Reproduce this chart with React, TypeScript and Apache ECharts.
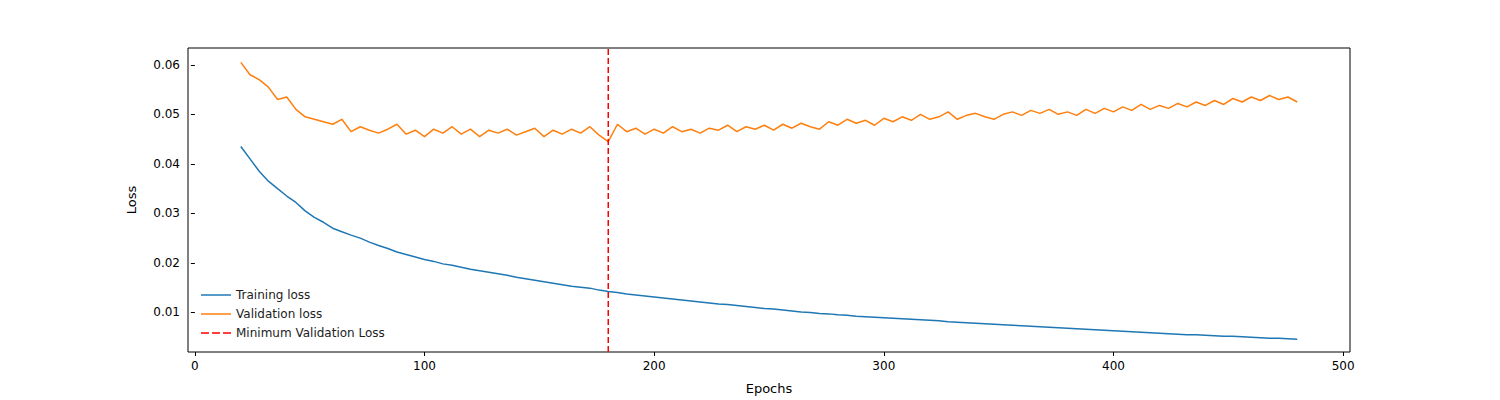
import React, { useEffect, useRef } from 'react'
import * as echarts from 'echarts'

const firstEpoch = 20
const epochStep = 4

const trainingLoss = [
  0.0435, 0.041, 0.0385, 0.0365, 0.035, 0.0335, 0.0322, 0.0305, 0.0292, 0.0282,
  0.027, 0.0263, 0.0256, 0.025, 0.0242, 0.0235, 0.0229, 0.0222, 0.0217, 0.0212,
  0.0207, 0.0203, 0.0198, 0.0195, 0.0191, 0.0187, 0.0184, 0.0181, 0.0178, 0.0175,
  0.0171, 0.0168, 0.0165, 0.0162, 0.0159, 0.0156, 0.0153, 0.0151, 0.0149, 0.0145,
  0.0142, 0.014, 0.0137, 0.0135, 0.0133, 0.0131, 0.0129, 0.0127, 0.0125, 0.0123,
  0.0121, 0.0119, 0.0117, 0.0116, 0.0114, 0.0112, 0.011, 0.0108, 0.0107, 0.0105,
  0.0103, 0.0101, 0.01, 0.0098, 0.0097, 0.0095, 0.0094, 0.0092, 0.0091, 0.009,
  0.0089, 0.0088, 0.0087, 0.0086, 0.0085, 0.0084, 0.0083, 0.0081, 0.008, 0.0079,
  0.0078, 0.0077, 0.0076, 0.0075, 0.0074, 0.0073, 0.0072, 0.0071, 0.007, 0.0069,
  0.0068, 0.0067, 0.0066, 0.0065, 0.0064, 0.0063, 0.0062, 0.0061, 0.006, 0.0059,
  0.0058, 0.0057, 0.0056, 0.0055, 0.0055, 0.0054, 0.0053, 0.0052, 0.0052, 0.0051,
  0.005, 0.0049, 0.0048, 0.0048, 0.0047, 0.0046,
]

const validationLoss = [
  0.0605, 0.058, 0.057, 0.0555, 0.053, 0.0535, 0.051, 0.0495, 0.049, 0.0485,
  0.048, 0.049, 0.0465, 0.0475, 0.0468, 0.0462, 0.047, 0.048, 0.046, 0.0468,
  0.0455, 0.047, 0.0462, 0.0475, 0.046, 0.047, 0.0455, 0.0468, 0.0462, 0.047,
  0.0458, 0.0465, 0.0472, 0.0455, 0.0468, 0.046, 0.047, 0.0462, 0.0475, 0.0458,
  0.0445, 0.048, 0.0465, 0.0472, 0.046, 0.047, 0.0462, 0.0475, 0.0465, 0.047,
  0.0462, 0.0472, 0.0468, 0.0478, 0.0465, 0.0475, 0.047, 0.0478, 0.0468, 0.048,
  0.0472, 0.0482, 0.0475, 0.047, 0.0485, 0.0478, 0.049, 0.0482, 0.0488, 0.0478,
  0.0492, 0.0485, 0.0495, 0.0488, 0.05, 0.049, 0.0495, 0.0505, 0.049, 0.0498,
  0.0502, 0.0495, 0.049, 0.05, 0.0505, 0.0498, 0.0508, 0.0502, 0.051, 0.05,
  0.0505, 0.0498, 0.051, 0.0502, 0.0512, 0.0505, 0.0515, 0.0508, 0.052, 0.051,
  0.0518, 0.0512, 0.0522, 0.0515, 0.0525, 0.0518, 0.0528, 0.052, 0.0532, 0.0525,
  0.0535, 0.0528, 0.0538, 0.053, 0.0535, 0.0525,
]

const bestEpoch = 180
const xTicks = [0, 100, 200, 300, 400, 500]
const yTicks = [0.01, 0.02, 0.03, 0.04, 0.05, 0.06]

const toPoints = (vals: number[]) => vals.map((v, i) => [firstEpoch + i * epochStep, v])

export default function App() {
  const chartRef = useRef<HTMLDivElement>(null)

  useEffect(() => {
    if (!chartRef.current) return
    document.body.style.margin = '0'
    const chart = echarts.init(chartRef.current, undefined, { renderer: 'svg' })
    const font = 'DejaVu Sans'

    chart.setOption({
      animation: false,
      textStyle: { fontFamily: font },
      grid: {
        left: 188, right: 150, top: 48, bottom: 45,
        show: true, borderColor: '#000', borderWidth: 1, backgroundColor: 'transparent',
      },
      legend: {
        orient: 'vertical',
        left: 196, top: 284,
        itemGap: 7, itemWidth: 30, itemHeight: 10,
        textStyle: { fontFamily: font, fontSize: 12, color: '#222' },
        data: [
          { name: 'Training loss', icon: 'path://M0,5L30,5L30,6.5L0,6.5Z' },
          { name: 'Validation loss', icon: 'path://M0,5L30,5L30,6.5L0,6.5Z' },
          { name: 'Minimum Validation Loss', icon: 'path://M0,5L8,5L8,6.5L0,6.5ZM11,5L19,5L19,6.5L11,6.5ZM22,5L30,5L30,6.5L22,6.5Z' },
        ],
      },
      xAxis: {
        type: 'value', min: -3, max: 503,
        name: 'Epochs', nameLocation: 'middle', nameGap: 30,
        nameTextStyle: { fontFamily: font, fontSize: 13, color: '#000' },
        splitLine: { show: false },
        axisLine: { show: false },
        axisTick: { show: true, customValues: xTicks, length: 4, lineStyle: { color: '#000' } },
        axisLabel: { customValues: xTicks, fontFamily: font, fontSize: 12, color: '#000' },
      },
      yAxis: {
        type: 'value', min: 0.002, max: 0.0634,
        name: 'Loss', nameLocation: 'middle', nameGap: 50,
        nameTextStyle: { fontFamily: font, fontSize: 13, color: '#000' },
        splitLine: { show: false },
        axisLine: { show: false },
        axisTick: { show: true, customValues: yTicks, length: 4, lineStyle: { color: '#000' } },
        axisLabel: {
          customValues: yTicks, fontFamily: font, fontSize: 12, color: '#000',
          formatter: (v: number) => v.toFixed(2),
        },
      },
      series: [
        {
          name: 'Training loss', type: 'line', showSymbol: false,
          data: toPoints(trainingLoss),
          lineStyle: { color: '#1f77b4', width: 1.5 }, itemStyle: { color: '#1f77b4' },
        },
        {
          name: 'Validation loss', type: 'line', showSymbol: false,
          data: toPoints(validationLoss),
          lineStyle: { color: '#ff7f0e', width: 1.5 }, itemStyle: { color: '#ff7f0e' },
        },
        {
          name: 'Minimum Validation Loss', type: 'line', showSymbol: false,
          data: [[bestEpoch, 0.002], [bestEpoch, 0.0634]],
          lineStyle: { color: '#ff0000', width: 1.5, type: [6, 3] }, itemStyle: { color: '#ff0000' },
        },
      ],
    })

    return () => chart.dispose()
  }, [])

  return <div ref={chartRef} style={{ width: 1500, height: 400 }} />
}
